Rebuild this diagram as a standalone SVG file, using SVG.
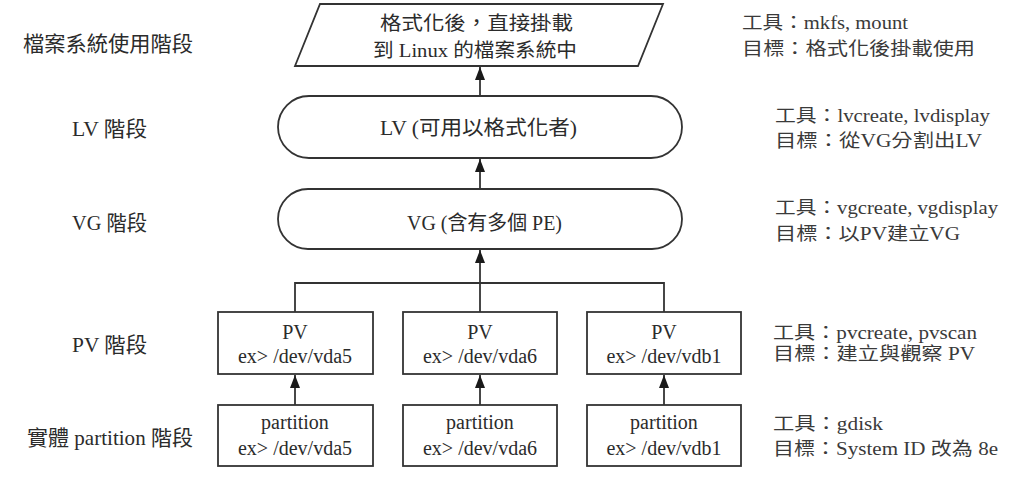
<svg xmlns="http://www.w3.org/2000/svg" width="1014" height="482" viewBox="0 0 1014 482">
<style>
text { font-family: "Liberation Serif", "Noto Sans CJK TC", serif; fill: #2b2b2b; }
.box { fill: #ffffff; stroke: #333333; stroke-width: 1.8; }
.conn { fill: none; stroke: #333333; stroke-width: 1.8; }
.stage { font-size: 21px; }
.tool { font-size: 18px; fill: #3a3a3a; }
.node { font-size: 20px; text-anchor: middle; }
.para { font-size: 19px; }
</style>
<defs>
<marker id="arrow" markerUnits="userSpaceOnUse" viewBox="0 0 13 10" markerWidth="13" markerHeight="10" refX="13" refY="5" orient="auto">
<path d="M0,0 L13,5 L0,10 Z" fill="#1a1a1a"/>
</marker>
</defs>
<rect width="1014" height="482" fill="#ffffff"/>

<g id="connectors">
<line class="conn" x1="480" y1="96" x2="480" y2="67" marker-end="url(#arrow)"/>
<line class="conn" x1="480" y1="189" x2="480" y2="159" marker-end="url(#arrow)"/>
<line class="conn" x1="480" y1="312" x2="480" y2="250" marker-end="url(#arrow)"/>
<polyline class="conn" points="295,312 295,283 664,283 664,312"/>
<line class="conn" x1="295" y1="405" x2="295" y2="375" marker-end="url(#arrow)"/>
<line class="conn" x1="480" y1="405" x2="480" y2="375" marker-end="url(#arrow)"/>
<line class="conn" x1="664" y1="405" x2="664" y2="375" marker-end="url(#arrow)"/>
</g>

<g id="fs">
<polygon class="box" points="320,4 663,4 638,66 295,66"/>
<text class="para" x="380" y="30" textLength="193" lengthAdjust="spacingAndGlyphs">格式化後，直接掛載</text>
<text class="para" x="373" y="57" textLength="204" lengthAdjust="spacingAndGlyphs">到 Linux 的檔案系統中</text>
</g>

<g id="lv">
<rect class="box" x="278" y="96" width="404" height="62" rx="31" ry="31"/>
<text style="font-size:20px" x="380" y="135" textLength="197" lengthAdjust="spacingAndGlyphs">LV (可用以格式化者)</text>
</g>

<g id="vg">
<rect class="box" x="278" y="189" width="404" height="60" rx="30" ry="30"/>
<text style="font-size:20px" x="407" y="230" textLength="155" lengthAdjust="spacingAndGlyphs">VG (含有多個 PE)</text>
</g>

<g id="pv1">
<rect class="box" x="218" y="312" width="155" height="62"/>
<text class="node" x="295" y="339">PV</text>
<text class="node" x="295" y="363">ex&gt; /dev/vda5</text>
</g>
<g id="pv2">
<rect class="box" x="403" y="312" width="154" height="62"/>
<text class="node" x="480" y="339">PV</text>
<text class="node" x="480" y="363">ex&gt; /dev/vda6</text>
</g>
<g id="pv3">
<rect class="box" x="587" y="312" width="154" height="62"/>
<text class="node" x="664" y="339">PV</text>
<text class="node" x="664" y="363">ex&gt; /dev/vdb1</text>
</g>

<g id="part1">
<rect class="box" x="218" y="405" width="155" height="61"/>
<text class="node" x="295" y="429">partition</text>
<text class="node" x="295" y="455">ex&gt; /dev/vda5</text>
</g>
<g id="part2">
<rect class="box" x="403" y="405" width="154" height="61"/>
<text class="node" x="480" y="429">partition</text>
<text class="node" x="480" y="455">ex&gt; /dev/vda6</text>
</g>
<g id="part3">
<rect class="box" x="587" y="405" width="154" height="61"/>
<text class="node" x="664" y="429">partition</text>
<text class="node" x="664" y="455">ex&gt; /dev/vdb1</text>
</g>

<g id="stage-labels">
<text class="stage" x="23" y="50.5" textLength="170" lengthAdjust="spacingAndGlyphs">檔案系統使用階段</text>
<text class="stage" x="72" y="135.5" textLength="75" lengthAdjust="spacingAndGlyphs">LV 階段</text>
<text class="stage" x="72" y="229.5" textLength="75" lengthAdjust="spacingAndGlyphs">VG 階段</text>
<text class="stage" x="72" y="351.5" textLength="75" lengthAdjust="spacingAndGlyphs">PV 階段</text>
<text class="stage" x="27" y="444.5" textLength="166" lengthAdjust="spacingAndGlyphs">實體 partition 階段</text>
</g>

<g id="tool-labels">
<text class="tool" x="742" y="28.5" textLength="166" lengthAdjust="spacingAndGlyphs">工具：mkfs, mount</text>
<text class="tool" x="742" y="54.5" textLength="233" lengthAdjust="spacingAndGlyphs">目標：格式化後掛載使用</text>
<text class="tool" x="775" y="121.5" textLength="215" lengthAdjust="spacingAndGlyphs">工具：lvcreate, lvdisplay</text>
<text class="tool" x="775" y="146.5" textLength="207" lengthAdjust="spacingAndGlyphs">目標：從VG分割出LV</text>
<text class="tool" x="775" y="213.5" textLength="223" lengthAdjust="spacingAndGlyphs">工具：vgcreate, vgdisplay</text>
<text class="tool" x="775" y="239.5" textLength="185" lengthAdjust="spacingAndGlyphs">目標：以PV建立VG</text>
<text class="tool" x="773" y="338.5" textLength="204" lengthAdjust="spacingAndGlyphs">工具：pvcreate, pvscan</text>
<text class="tool" x="773" y="359.5" textLength="202" lengthAdjust="spacingAndGlyphs">目標：建立與觀察 PV</text>
<text class="tool" x="773" y="429.5" textLength="110" lengthAdjust="spacingAndGlyphs">工具：gdisk</text>
<text class="tool" x="773" y="454.5" textLength="225" lengthAdjust="spacingAndGlyphs">目標：System ID 改為 8e</text>
</g>
</svg>
